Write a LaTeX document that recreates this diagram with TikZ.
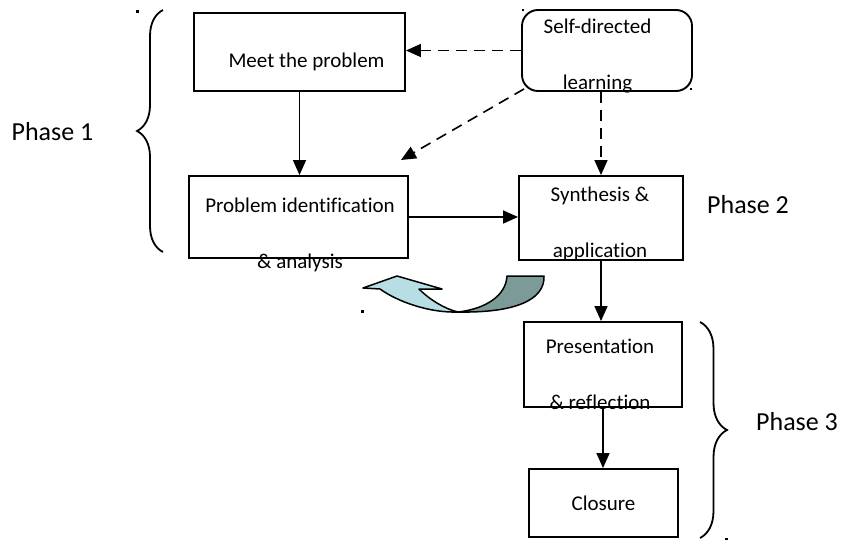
\documentclass[tikz,border=0pt]{standalone}
\usepackage{fontspec}
\setmainfont[Ligatures=NoCommon]{Carlito}
\usepackage{xcolor}
\usetikzlibrary{arrows.meta,positioning,decorations.pathreplacing}
\definecolor{lightaqua}{RGB}{183,222,226}
\definecolor{darkteal}{RGB}{124,155,152}

\tikzset{
  box/.style={draw, line width=1.9pt, inner sep=0pt},
  txt/.style={font=\fontsize{21}{56}\selectfont, align=center, inner sep=0pt},
  phase/.style={font=\fontsize{26}{30}\selectfont, inner sep=0pt},
  arr/.style={line width=1.6pt, -{Triangle[length=15pt,width=13pt]}},
  dasharr/.style={arr, dash pattern=on 11pt off 7pt},
  brc/.style={line width=1.8pt, decorate, decoration={brace, amplitude=#1}}
}

\begin{document}
\begin{tikzpicture}[x=1pt,y=-1pt]
\useasboundingbox (0,0) rectangle (842,540);

% boxes
\node[box, minimum width=211pt, minimum height=78pt] (meet) at (299.5,52) {};
\node[txt] (meet-t) at (306.5,61.5) {Meet the problem};
\node[box, rounded corners=16pt, minimum width=170pt, minimum height=81pt] (self) at (607,50.5) {};
\node[txt] (self-t) at (597.5,56.5) {Self-directed\\learning};
\node[box, minimum width=219pt, minimum height=82pt] (ident) at (298.5,217) {};
\node[txt] (ident-t) at (300,235) {Problem identification\\\& analysis};
\node[box, minimum width=164pt, minimum height=84pt] (synth) at (601,218) {};
\node[txt] (synth-t) at (600,224) {Synthesis \&\\application};
\node[box, minimum width=158pt, minimum height=85pt] (pres) at (603,364.5) {};
\node[txt] (pres-t) at (600,374) {Presentation\\\& reflection};
\node[box, font=\fontsize{21}{25}\selectfont, minimum width=149pt, minimum height=68pt] (close) at (603.5,503) {Closure};

% phases
\node[phase] (ph1) at (52.5,132) {Phase 1};
\node[phase] (ph2) at (748,204.5) {Phase 2};
\node[phase] (ph3) at (797,421.5) {Phase 3};
\draw[brc=26pt] (163,252) -- (163,10);
\draw[brc=27pt] (700,322) -- (700,538);

% edges
\draw[arr] (meet.south) -- (meet.south |- ident.north);
\draw[arr] (ident.east) -- (ident.east -| synth.west);
\draw[arr] (synth.south) -- (synth.south |- pres.north);
\draw[arr] (pres.south) -- (pres.south |- close.north);
\draw[dasharr] (self.west) -- (self.west -| meet.east);
\coordinate (dtip) at (401,160);
\draw[dasharr] ([shift={(3,-3)}]self.south west) -- (dtip);
\draw[dasharr] (synth.north |- self.south) -- (synth.north);

% curved arrow
\filldraw[fill=lightaqua, line width=1.5pt, line join=round]
  (458,312) .. controls (430,313) and (398,302) .. (380,289) -- (363,288) -- (397,276)
  -- (442,289) -- (419,289) .. controls (430,300) and (445,309) .. (458,312) -- cycle;
\filldraw[fill=darkteal, line width=1.5pt, line join=round]
  (507,276) -- (544,276) .. controls (545,300) and (515,313) .. (458,312)
  .. controls (485,309) and (506,296) .. (507,276) -- cycle;

% stray marks
\fill (136,10.5) rectangle (138.5,13);
\fill (361,310) rectangle (363.5,312.5);
\fill (725,538) rectangle (727.5,540);
\fill (521.5,9.5) rectangle (523.5,11.5);
\fill (690,88.5) rectangle (692,90.5);
\end{tikzpicture}
\end{document}
